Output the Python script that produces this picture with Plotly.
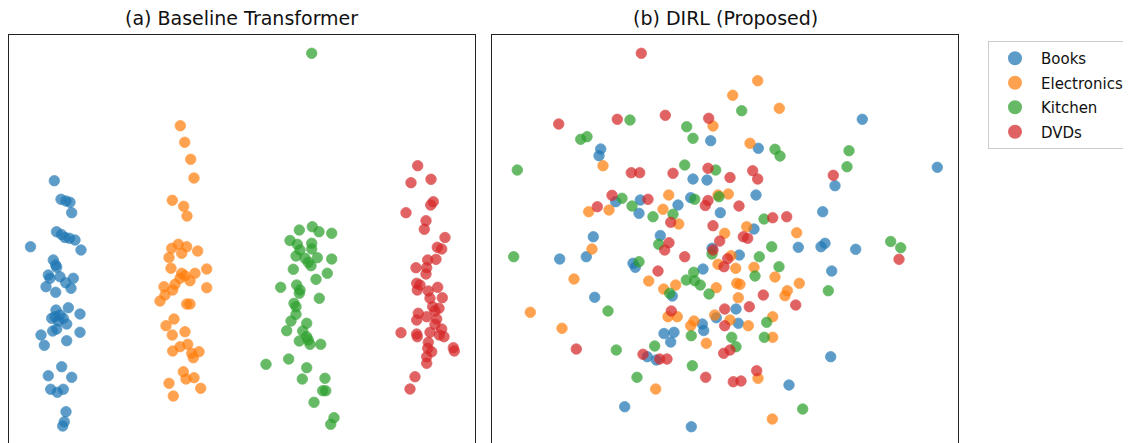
import plotly.graph_objects as go

# ---------------- data (embedding coordinates) ----------------
categories = ["Books", "Electronics", "Kitchen", "DVDs"]
colors = ["#1f77b4", "#ff7f0e", "#2ca02c", "#d62728"]
panel_titles = ["(a) Baseline Transformer", "(b) DIRL (Proposed)"]

base_books = [(54.3,180.7),(61,199.3),(66,201),(70,202.3),(71.7,212.7),(56.5,231.7),(61.5,234.5),(65,237.5),
    (69.5,238.3),(75,240),(30.5,246.7),(81,250),(53.3,260),(55.7,265),(56.7,267.3),(48.3,275),(50,278.3),
    (60,276.7),(73.3,278.3),(65.7,282.7),(46,286.7),(71,288.3),(55.7,292.3),(56,310),(68.3,307.7),(80,314),
    (51.7,318.3),(55,316.7),(60,315),(63.3,318.3),(58.3,321),(66.7,324),(52.7,331),(56.7,329),(41,335),
    (80,332.3),(44.3,345.3),(66.7,340.7),(61.7,366.7),(48.3,375.7),(71.7,377.3),(50.7,389.3),(57.3,392.3),
    (63.3,389.3),(66,411.7),(64.3,421.7),(62.7,426)]
base_electronics = [(180.3,125.7),(184.7,142.3),(190.7,159.3),(194,178),(172.3,200.3),(183.7,206.3),(187,216),
    (178.3,244.3),(171.7,248.3),(186.7,246.7),(181.7,253.3),(197.7,251),(169,257.5),(171,268.3),(206.7,269),
    (181.7,273.3),(185,275.7),(195,273.3),(190,280.7),(180,278.3),(175,284.3),(164,286.7),(172.7,290),
    (206.7,287.7),(165,295),(160,301),(186.7,304),(190,304),(166,325.7),(174,319),(185,331.7),(172.3,335),
    (180,346.7),(172.7,351),(187.7,344.3),(191.7,353.3),(199,351.7),(193.3,357.7),(183.3,371.7),(186,379),
    (194,377.7),(169,383.3),(200.7,388.3),(173.3,396)]
base_kitchen = [(311.7,53.3),(299.3,230),(312.3,226.7),(319,231.7),(331.7,233.3),(290,240.5),(297.3,244.3),
    (311.7,243.3),(300,250),(311.7,249),(296,256),(305,258.3),(317.3,257.7),(308.3,262.3),(311,265.7),
    (331.7,259),(293.3,269.3),(327.3,273.3),(316,279.3),(280.7,287.3),(296.7,285),(300,290),(299.3,293.3),
    (319.3,298.3),(294,303.3),(296,306.7),(296,314.3),(291,321),(306.7,323.3),(286.7,330.7),(302.7,331),
    (306.7,336.7),(299.3,341),(308.3,340),(310,344.3),(320.7,344.3),(266,364.3),(288.7,359),(306.7,367.7),
    (302.3,379),(325,378.3),(322.7,390.7),(325.7,390.7),(314,402.3),(334,417.7),(330.7,424.3)]
base_dvds = [(417.7,165.7),(411,182.7),(431,179.3),(433.3,201.7),(430.7,205),(406,212.7),(426,220.7),
    (424.3,229.3),(445,237.5),(437.3,247.3),(441.7,249),(427.7,260),(436,259.3),(416,267.7),(426.7,267.7),
    (426,274),(416.7,283.3),(420,285),(437.7,287.3),(417.3,290),(428.3,291),(442.3,297.7),(430,298.3),
    (432.7,306.7),(439,308.3),(435,311),(418.3,313.3),(426.7,316.7),(416.7,320),(436.7,319),(435,324.3),
    (441.7,329),(430,332.3),(401,332.7),(416.7,334),(417.3,336.7),(439.3,335),(444,336.7),(428.3,342.3),
    (427.7,348.3),(431.7,351.7),(453.3,347.7),(454.3,351),(426.7,356.7),(426.7,363.3),(415,376.7),(410,389)]

dirl_books = [(600.7,149),(599,155.7),(710.7,140.7),(693,179),(707,180),(615.7,201.7),(640.3,200),(678,205),
    (690.7,197.7),(639,213.3),(720.3,212.7),(593.3,236.7),(660.3,235.5),(559.7,259),(586.3,256.7),(633,263.3),
    (635.3,267.3),(703,269),(712,248.3),(594.7,297.3),(672.3,296),(664,333.5),(674,332.3),(670.7,342),
    (702.3,324),(703.7,330.5),(647.3,356.7),(656.3,360),(716.3,317.7),(624.7,406.7),(691.3,426.7),
    (862.3,119.3),(758.3,148.3),(937.3,167.3),(835,185.7),(756,195),(822.7,211.7),(754,229),
    (739.3,255),(798.3,247.3),(821,246.7),(825,243.3),(855.7,249.3),(831.7,271),(736,309),(738.3,323.3),
    (830.7,356.7),(789,385)]
dirl_electronics = [(713,126),(603,165.7),(668.7,195),(663,209.3),(588.7,211.7),(609,210),(678.7,224),(718,195),
    (724.7,233.3),(757.7,80.7),(732.7,95.3),(779.3,108.3),(750,143.3),(728.3,194),(796.7,232.7),(746.7,226.7),
    (592,249),(574,279),(648.7,281),(663.7,289),(675.7,285),(716.3,287.7),(718,264.3),(530.3,312.3),
    (562,328.3),(668,316.7),(677.3,316.7),(694,321),(690.7,325.7),(714.7,315),(706.3,343.3),(655.7,389),
    (731,255.7),(735.7,268.3),(754,267.3),(775,277),(799.3,283.3),(736.7,283.3),(740,284.3),(787.3,290.7),
    (785,295.7),(738.3,297.7),(730,320),(772.7,316.7),(748.3,325.7),(772.7,337.3),(758,378.3),(772.3,419)]
dirl_kitchen = [(630,120),(686.7,126.7),(693,138.3),(580.7,139.3),(587,136.7),(517.3,170),(684.7,165),(715.7,170),
    (622,198.3),(632,206),(653,216.7),(673,214.3),(694.7,199.3),(719,196.7),
    (741.7,110.7),(775,149.3),(780,156),(849,150.7),(847,166.7),(764,219),(890.7,241.5),
    (513.7,256.7),(639,261.7),(658.7,244.3),(712,254),(686.3,280),(693.7,272.3),(694.7,280.7),(700.3,285),
    (709,294),(669.7,293.3),(608,311),(691.3,335.7),(654.7,346),(616.3,350),(692.3,365.7),(637,377.3),
    (771.7,246.7),(759.3,256.7),(779,266.7),(755,276),(828.3,290.7),(766.7,322.3),(731.7,337.3),
    (764.3,337.3),(736,346.7),(802.7,409),(900.7,247.7)]
dirl_dvds = [(641.3,53.3),(558.7,124),(617.3,119.3),(665.3,115.3),(708.7,118.3),(631.3,172.7),(639.7,172.7),
    (673,173.3),(708,168.3),(612,195.3),(597.3,206.7),(648,199.3),(708,200.5),(705.3,205.5),(670.7,222.3),
    (713,225.7),(730,177.5),(752.7,170.7),(757.7,179),(833.3,175.3),(739,206),(772.7,217.7),(786.7,216.7),
    (743.3,236.7),(747.7,238.3),(669,242.7),(664.7,250),(684.7,256.7),(713,250),(719.7,241),(724,266.7),
    (727.7,258.7),(658,271),(671.3,311),(724.7,309),(724.7,325.7),(576.3,349),(643,354.3),(659.7,359),
    (667,359),(705.7,377.3),(723.7,353.3),(730,350),(763.3,295),(795.7,305),(749.3,306.7),(756.7,370.7),
    (733.3,381.7),(741,381),(899,259.3)]

panels = [
    [base_books, base_electronics, base_kitchen, base_dvds],
    [dirl_books, dirl_electronics, dirl_kitchen, dirl_dvds],
]
x_ranges = [(9, 475), (492, 958)]
y_range = (443, 34.5)

# ---------------- figure ----------------
OFF = 8            # page body margin in the browser
W, H = 1160, 435   # figure size (right part overflows the window, like the reference)


def fx(px):
    return (px - OFF) / W


def fy(py):
    return 1 - (py - OFF) / H


fig = go.Figure()
for p, series in enumerate(panels):
    xa = "x" if p == 0 else "x2"
    ya = "y" if p == 0 else "y2"
    for name, col, pts in zip(categories, colors, series):
        fig.add_trace(go.Scatter(
            x=[a for a, b in pts], y=[b for a, b in pts],
            mode="markers", name=name, legendgroup=name,
            showlegend=(p == 0), xaxis=xa, yaxis=ya,
            marker=dict(size=10.5, color=col, opacity=0.72,
                        line=dict(width=0.8, color=col)),
            hoverinfo="skip",
        ))

common_x = dict(showgrid=False, zeroline=False, showticklabels=False, ticks="",
                showline=True, linecolor="#222222", linewidth=1.2, side="top")
common_y = dict(showgrid=False, zeroline=False, showticklabels=False, ticks="",
                showline=True, mirror=True, linecolor="#222222", linewidth=1.2,
                range=list(y_range), domain=[0, fy(y_range[1])])

fig.update_layout(
    width=W, height=H,
    margin=dict(l=0, r=0, t=0, b=0),
    paper_bgcolor="white", plot_bgcolor="white",
    font=dict(family="DejaVu Sans", color="#111111"),
    xaxis=dict(**common_x, range=list(x_ranges[0]), domain=[fx(x_ranges[0][0]), fx(x_ranges[0][1])]),
    xaxis2=dict(**common_x, range=list(x_ranges[1]), domain=[fx(x_ranges[1][0]), fx(x_ranges[1][1])], anchor="y2"),
    yaxis=dict(**common_y, anchor="x"),
    yaxis2=dict(**common_y, anchor="x2"),
    legend=dict(x=fx(988), y=fy(41), xanchor="left", yanchor="top",
                bordercolor="#cccccc", borderwidth=1, bgcolor="white",
                font=dict(size=15, family="DejaVu Sans", color="#111111"),
                itemsizing="constant", itemwidth=42, tracegroupgap=2),
    showlegend=True,
)
for p, t in enumerate(panel_titles):
    cx = fx((x_ranges[p][0] + x_ranges[p][1]) / 2)
    fig.add_annotation(text=t, x=cx, y=fy(18), xref="paper", yref="paper",
                       xanchor="center", yanchor="middle", showarrow=False,
                       font=dict(size=19, family="DejaVu Sans", color="#111111"))

fig.write_html("out.html")
